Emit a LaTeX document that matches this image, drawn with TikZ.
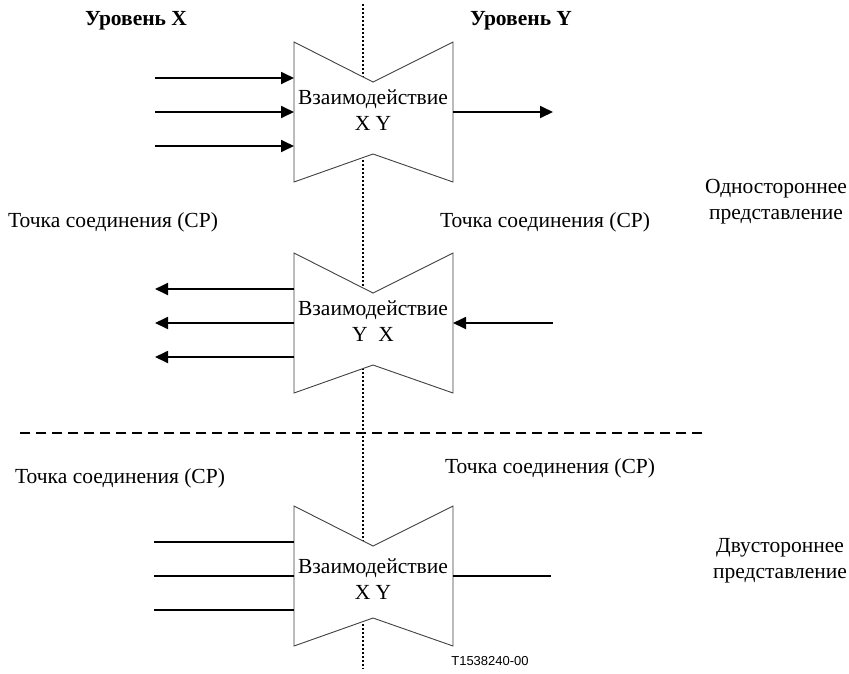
\documentclass[tikz,border=0pt]{standalone}
\usepackage{fontspec}
\setmainfont{Liberation Serif}
\newfontfamily\labelsans{Liberation Sans}
\usetikzlibrary{arrows.meta}

\tikzset{
  flow/.style={line width=1.8pt},
  flowarrow/.style={flow, -{Triangle[length=13pt,width=12pt]}},
  outline/.style={draw=black!75, line width=0.9pt, fill=white, line join=miter},
  txt/.style={font=\fontsize{21.5}{26}\selectfont, inner sep=0pt, align=center},
  head/.style={font=\bfseries\fontsize{21.5}{26}\selectfont, inner sep=0pt},
  interaction/.pic={
    \path[outline] (0,0) -- (79,40) -- (159,0) -- (159,140) -- (79,112) -- (0,140) -- cycle;
    \coordinate (-w1) at (0,36);
    \coordinate (-w2) at (0,70);
    \coordinate (-w3) at (0,104);
    \coordinate (-e) at (159,70);
  }
}

\begin{document}
\begin{tikzpicture}[x=1pt,y=-1pt]
  \useasboundingbox (0,0) rectangle (849,673);

  % boundary between the two layers
  \coordinate (divtop) at (363,4);
  \coordinate (divbot) at (363,669);
  \draw[line width=1.7pt, dash pattern=on 2pt off 2pt] (divtop) -- (divbot);

  % separator between one-way and two-way representations
  \coordinate (sepl) at (20,433);
  \coordinate (sepr) at (706,433);
  \draw[line width=1.4pt, dash pattern=on 10pt off 6pt] (sepl) -- (sepr);

  % headings
  \node[head] (lx) at (136,21) {Уровень X};
  \node[head] (ly) at (521,21) {Уровень Y};

  % ---- unidirectional: X to Y ----
  \pic (ia) at (294,42) {interaction};
  \node[txt] (ta) at (373,110) {Взаимодействие\\X Y};
  \coordinate (a1) at (155,78);
  \coordinate (a2) at (155,112);
  \coordinate (a3) at (155,146);
  \coordinate (ao) at (553,112);
  \draw[flowarrow] (a1) -- (ia-w1);
  \draw[flowarrow] (a2) -- (ia-w2);
  \draw[flowarrow] (a3) -- (ia-w3);
  \draw[flowarrow] (ia-e) -- (ao);

  \node[txt] (uni) at (776,202) {Одностороннее\\представление};
  \node[txt, anchor=west] (cp1) at (8,222) {Точка соединения (CP)};
  \node[txt, anchor=west] (cp2) at (440,222) {Точка соединения (CP)};

  % ---- unidirectional: Y to X ----
  \pic (ib) at (294,253) {interaction};
  \node[txt] (tb) at (373,321) {Взаимодействие\\Y\enspace X};
  \coordinate (b1) at (155,289);
  \coordinate (b2) at (155,323);
  \coordinate (b3) at (155,357);
  \coordinate (bi) at (553,323);
  \draw[flowarrow] (ib-w1) -- (b1);
  \draw[flowarrow] (ib-w2) -- (b2);
  \draw[flowarrow] (ib-w3) -- (b3);
  \draw[flowarrow] (bi) -- (ib-e);

  % ---- bidirectional ----
  \node[txt, anchor=west] (cp3) at (15,478) {Точка соединения (CP)};
  \node[txt, anchor=west] (cp4) at (445,468) {Точка соединения (CP)};
  \pic (ic) at (294,506) {interaction};
  \node[txt] (tc) at (373,579) {Взаимодействие\\X Y};
  \coordinate (c1) at (154,542);
  \coordinate (c2) at (154,576);
  \coordinate (c3) at (154,610);
  \coordinate (co) at (551,576);
  \draw[flow] (c1) -- (ic-w1);
  \draw[flow] (c2) -- (ic-w2);
  \draw[flow] (c3) -- (ic-w3);
  \draw[flow] (ic-e) -- (co);

  \node[txt] (bi2) at (780,561) {Двустороннее\\представление};

  \node[font=\labelsans\fontsize{13}{15}\selectfont, inner sep=0pt] (ref) at (490,661) {T1538240-00};
\end{tikzpicture}
\end{document}
